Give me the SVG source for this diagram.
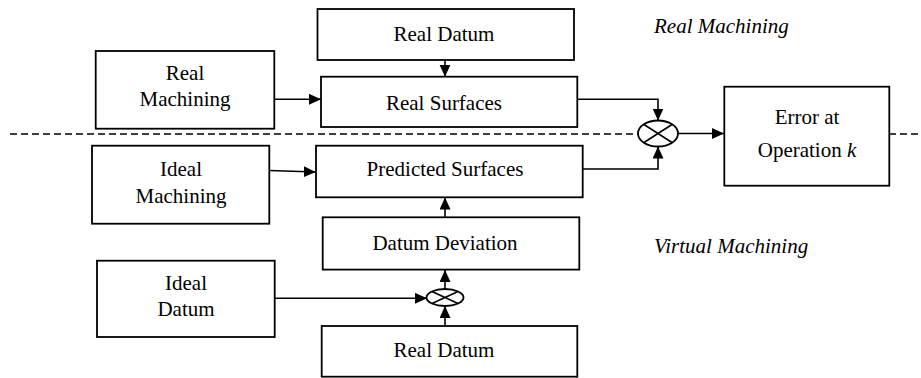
<svg xmlns="http://www.w3.org/2000/svg" width="921" height="378" viewBox="0 0 921 378">
<style>
.box{fill:#fff;stroke:#000;stroke-width:1.8}
.t{font-family:"Liberation Serif","Times New Roman",serif;font-size:21px;fill:#000;text-anchor:middle}
.it{font-family:"Liberation Serif","Times New Roman",serif;font-size:21px;font-style:italic;fill:#000}
.c{fill:none;stroke:#000;stroke-width:1.6}
.d{fill:none;stroke:#000;stroke-width:1.6;stroke-dasharray:7 4}
.j{fill:#fff;stroke:#000;stroke-width:1.8}
</style>
<defs>
<marker id="ah" markerUnits="userSpaceOnUse" markerWidth="12" markerHeight="12" refX="12" refY="5.5" orient="auto">
<path d="M0,0 L12,5.5 L0,11 z" fill="#000"/>
</marker>
</defs>
<rect width="921" height="378" fill="#fff"/>
<g id="connectors">
<line class="d" x1="10" y1="134" x2="638" y2="134"/>
<line class="d" x1="889" y1="134" x2="921" y2="134"/>
<line class="c" x1="274" y1="99.3" x2="321" y2="99.3" marker-end="url(#ah)"/>
<line class="c" x1="445" y1="60" x2="445" y2="76.7" marker-end="url(#ah)"/>
<polyline class="c" points="574,99.3 658,99.3 658,120.5" marker-end="url(#ah)"/>
<polyline class="c" points="583,169 658,169 658,146.5" marker-end="url(#ah)"/>
<line class="c" x1="678" y1="133.5" x2="724" y2="133.5" marker-end="url(#ah)"/>
<line class="c" x1="269" y1="170.5" x2="315.7" y2="172" marker-end="url(#ah)"/>
<line class="c" x1="445" y1="217" x2="445" y2="197.5" marker-end="url(#ah)"/>
<line class="c" x1="445" y1="289" x2="445" y2="270" marker-end="url(#ah)"/>
<line class="c" x1="445" y1="326" x2="445" y2="306" marker-end="url(#ah)"/>
<line class="c" x1="274.7" y1="298.3" x2="427" y2="298.3" marker-end="url(#ah)"/>
</g>
<g id="realDatumTop"><rect class="box" x="317.5" y="9" width="256.5" height="51"/><text class="t" x="444" y="41">Real Datum</text></g>
<g id="realMachining"><rect class="box" x="95.7" y="51" width="178.6" height="77.7"/><text class="t" x="185" y="80">Real</text><text class="t" x="185" y="106">Machining</text></g>
<g id="realSurfaces"><rect class="box" x="321" y="76.7" width="256.3" height="50.3"/><text class="t" x="444" y="110">Real Surfaces</text></g>
<g id="idealMachining"><rect class="box" x="92" y="145.7" width="177.3" height="78"/><text class="t" x="181" y="176">Ideal</text><text class="t" x="181" y="202.5">Machining</text></g>
<g id="predictedSurfaces"><rect class="box" x="316" y="145.7" width="266.7" height="51.6"/><text class="t" x="445" y="176">Predicted Surfaces</text></g>
<g id="datumDeviation"><rect class="box" x="322.7" y="217.3" width="256.6" height="52.3"/><text class="t" x="445" y="250">Datum Deviation</text></g>
<g id="idealDatum"><rect class="box" x="97" y="260.7" width="177.7" height="76.3"/><text class="t" x="186" y="290">Ideal</text><text class="t" x="186" y="316">Datum</text></g>
<g id="realDatumBottom"><rect class="box" x="321.7" y="326" width="255.6" height="50.7"/><text class="t" x="444" y="356.5">Real Datum</text></g>
<g id="errorBox"><rect class="box" x="724.3" y="86.7" width="165" height="99"/><text class="t" x="807" y="124">Error at</text><text class="t" x="807" y="156.5">Operation <tspan font-style="italic">k</tspan></text></g>
<g id="junctionTop"><ellipse class="j" cx="658" cy="133.5" rx="20" ry="13"/><path class="c" d="M644,124.5 L672,142.5 M644,142.5 L672,124.5"/></g>
<g id="junctionBottom"><ellipse class="j" cx="445" cy="297.5" rx="18.5" ry="8.5"/><path class="c" d="M432,291.5 L458,303.5 M432,303.5 L458,291.5"/></g>
<g id="labels"><text class="it" x="654" y="33">Real Machining</text><text class="it" x="654" y="253">Virtual Machining</text></g>
</svg>
